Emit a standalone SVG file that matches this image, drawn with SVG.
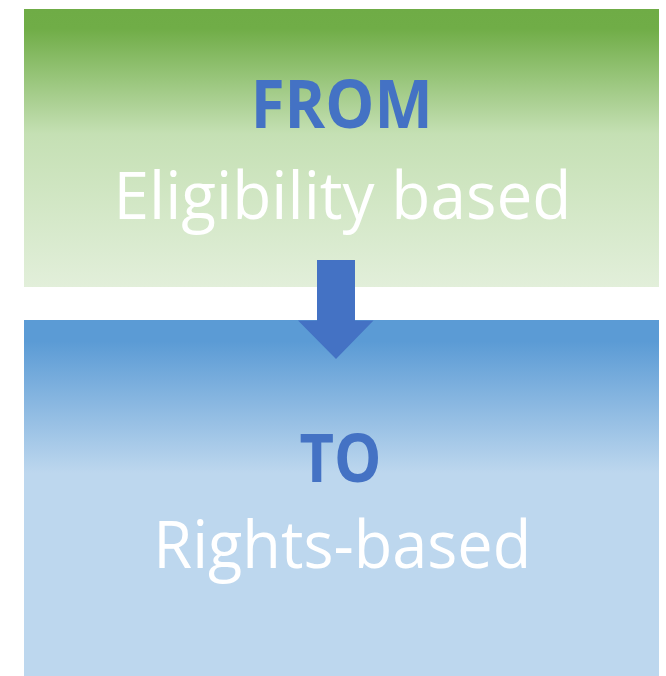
<svg xmlns="http://www.w3.org/2000/svg" width="666" height="676" viewBox="0 0 666 676">
<defs>
<linearGradient id="gGreen" x1="0" y1="0" x2="0" y2="1">
<stop offset="0" stop-color="#6fac46"/>
<stop offset="0.07" stop-color="#70ad47"/>
<stop offset="0.45" stop-color="#c5e0b4"/>
<stop offset="1" stop-color="#e2efda"/>
</linearGradient>
<linearGradient id="gBlue" x1="0" y1="0" x2="0" y2="1">
<stop offset="0" stop-color="#5b9bd5"/>
<stop offset="0.06" stop-color="#5b9bd5"/>
<stop offset="0.43" stop-color="#bdd7ee"/>
<stop offset="1" stop-color="#bdd7ee"/>
</linearGradient>
<style>
.big{font-family:"Open Sans","Liberation Sans",sans-serif;font-size:66px;text-anchor:middle}
.head{font-weight:bold;fill:#4472c4}
.sub{fill:#ffffff}
</style>
</defs>
<rect width="666" height="676" fill="#ffffff"/>
<g id="from">
<rect x="24" y="9" width="635" height="278" fill="url(#gGreen)"/>
<text class="big head" x="341.7" y="128" textLength="182" lengthAdjust="spacingAndGlyphs">FROM</text>
<text class="big sub" x="342.5" y="219" textLength="458" lengthAdjust="spacingAndGlyphs">Eligibility based</text>
</g>
<g id="to">
<rect x="24" y="320" width="635" height="356" fill="url(#gBlue)"/>
<text class="big head" x="340.5" y="482" textLength="82" lengthAdjust="spacingAndGlyphs">TO</text>
<text class="big sub" x="342.3" y="568" textLength="378" lengthAdjust="spacingAndGlyphs">Rights-based</text>
</g>
<g id="connectors">
<path d="M317 260 H355 V320.5 H373.5 L336 359 L298 320.5 H317 Z" fill="#4472c4"/>
</g>
</svg>
